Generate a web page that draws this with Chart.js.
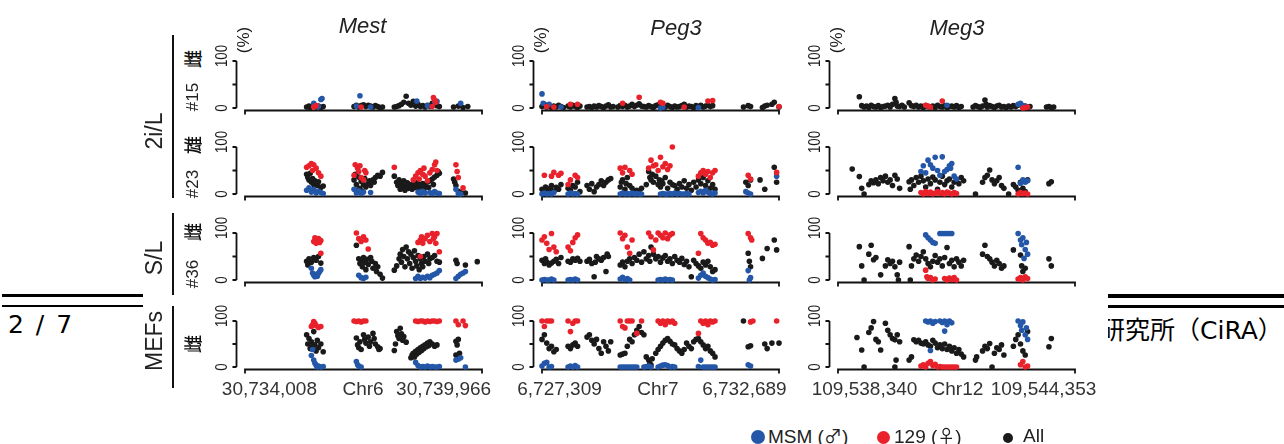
<!DOCTYPE html>
<html>
<head>
<meta charset="utf-8">
<script src="https://cdn.jsdelivr.net/npm/chart.js@4.4.0/dist/chart.umd.min.js"></script>
<style>
  html, body { margin: 0; padding: 0; background: #fff; }
  #page { position: relative; width: 1284px; height: 444px; overflow: hidden; background: #fff; font-family: "Liberation Sans", Arial, sans-serif; color: #111; }
  .rule { position: absolute; background: #000; }
  .pg { position: absolute; font-family: "DejaVu Sans", "Noto Sans CJK JP", sans-serif; font-size: 25px; color: #000; white-space: nowrap; }
  #fig { position: absolute; left: 143px; top: 0; width: 965px; height: 444px; background: #fff; }
  .t { position: absolute; white-space: nowrap; line-height: 1; }
  .rot { transform: translate(-50%, -50%) rotate(-90deg); }
  .vline { position: absolute; width: 2px; background: #111; }
  canvas { position: absolute; }
  .leg { position: absolute; top: 426px; font-size: 19px; white-space: nowrap; line-height: 1; color: #222; }
  .dot { display: inline-block; border-radius: 50%; vertical-align: -1px; }
  .sym { font-family: "Noto Sans CJK JP", "DejaVu Sans", sans-serif; font-size: 18px; }
</style>
</head>
<body>
<div id="page">
  <div class="rule" style="left:2px;top:294px;width:141px;height:3px"></div>
  <div class="rule" style="left:2px;top:305px;width:141px;height:2px"></div>
  <div class="rule" style="left:1108px;top:294px;width:176px;height:4px"></div>
  <div class="rule" style="left:1108px;top:305px;width:176px;height:3px"></div>
  <div class="pg" style="left:8px;top:310px;word-spacing:4px">2 / 7</div>
  <div class="pg" style="left:1100px;top:310px">研究所（CiRA）</div>
  <div id="fig"></div>
</div>
<script>
// colours
const BLUE = '#2457a8';
const RED = '#e8212b';
const BLACK = '#1a1a1a';

// x tick labels for each gene region (positions in % of the plotted window)
const MEST_X_TICKS = [10.3, 49.8, 83.8];
const MEST_X_LABELS = ['30,734,008', 'Chr6', '30,739,966'];
const PEG3_X_TICKS = [7.4, 48.9, 85.4];
const PEG3_X_LABELS = ['6,727,309', 'Chr7', '6,732,689'];
const MEG3_X_TICKS = [11.2, 50.4, 86.7];
const MEG3_X_LABELS = ['109,538,340', 'Chr12', '109,544,353'];
const Y_TICKS = [0, 50, 100];
const Y_TICK_LABELS = ['0', '', '100'];

// methylation (%) as flat [position, value, ...] lists
// ---- Mest ----
const MEST_R1_ALL = [26,2, 27,4, 27.5,1, 28,3, 29,5, 30,2, 31,4, 32,1, 33,3, 46,3, 47,6, 48,2, 49,5, 50,7, 51,3, 52,6, 53,4, 54,2, 55,5, 56,3, 57,1, 58,2, 63,2, 64,3, 65,5, 66,8, 67,12, 68,25, 69,10, 70,6, 71,14, 72,4, 73,8, 74,3, 75,5, 76,2, 77,6, 78,4, 79,10, 80,7, 81,5, 82,3, 88,2, 90,4, 92,1, 94,3];
const MEST_R1_MSM = [29,10, 31,3, 32,18, 32.5,20, 48.5,26, 47,4, 53,2, 72.5,15, 77,5, 80,13, 81,14, 91,10];
const MEST_R1_129 = [30,5, 29,2, 49,2, 79,3, 79.5,22, 80,17, 80.5,12];

const MEST_R2_ALL = [26,42, 26.5,35, 27,30, 27.5,44, 28,25, 28.5,33, 29,20, 29.5,28, 30,22, 30.5,18, 31,26, 32,14, 33,17, 46,30, 46.5,42, 47,20, 47.5,8, 48,36, 48.5,12, 49,27, 49.5,5, 50,20, 50.5,33, 51,15, 52,22, 52.5,28, 53,18, 54,30, 54.5,25, 55,35, 56,40, 57,38, 58,46, 63,38, 64,25, 64.5,18, 65,30, 65.5,10, 66,22, 66.5,14, 67,28, 67.5,8, 68,18, 68.5,24, 69,12, 69.5,20, 70,16, 70.5,10, 71,22, 71.5,14, 72,18, 72.5,25, 73,12, 73.5,20, 74,16, 75,22, 75.5,10, 76,18, 77,26, 77.5,14, 78,28, 79,32, 79.5,20, 80,36, 81,40, 81.5,48, 82,44, 88,32, 88.5,25, 89,18, 90,6, 91,3, 93,2];
const MEST_R2_MSM = [26,8, 27,13, 28,4, 29,10, 30,2, 31,6, 32,3, 33,1, 46,10, 47,2, 48,7, 49,1, 50,4, 53,3, 73,4, 74,1, 75,6, 76,2, 78,3, 79,1, 80,5, 81,2, 82,1, 89,10, 90,1, 91,0];
const MEST_R2_129 = [26,57, 27,60, 28,65, 28.5,50, 29,62, 30,55, 31,45, 32,38, 46,40, 46.5,62, 47.5,55, 48,48, 48.5,60, 49,35, 50,30, 50.5,50, 51,45, 63,57, 71,30, 72,38, 73,45, 73.5,32, 74,50, 75,42, 75.5,55, 76,38, 77,28, 78,45, 79,52, 80,62, 80.5,68, 81,50, 89,62, 89.5,48, 90,35, 92,13];

const MEST_R3_ALL = [26,40, 26.5,32, 27,45, 28,38, 29,48, 30,42, 31,50, 32,36, 47,74, 48,45, 48.5,35, 49,42, 49.5,28, 50,48, 50.5,38, 51,22, 51.5,44, 52,33, 53,48, 53.5,40, 54,25, 55,35, 55.5,18, 56,28, 57,12, 58,4, 63,21, 64,30, 65,45, 65.5,55, 66,38, 66.5,65, 67,50, 67.5,28, 68,70, 68.5,45, 69,60, 69.5,35, 70,55, 70.5,25, 71,48, 71.5,62, 72,40, 72.5,30, 73,52, 73.5,22, 74,45, 74.5,35, 75,28, 75.5,50, 76,40, 77,55, 77.5,35, 78,45, 79,48, 80,52, 81,40, 82,38, 89,42, 89.5,35, 93,32, 98,39];
const MEST_R3_MSM = [28,25, 28.5,15, 29,10, 29.5,7, 30,12, 30.5,8, 31,14, 31.5,18, 32,22, 48,10, 49,5, 50,3, 51,6, 72,3, 73,8, 74,3, 75,6, 76,4, 77,8, 78,5, 79,10, 80,12, 81,15, 82,20, 89,3, 90,8, 91,12, 92,15, 93,18];
const MEST_R3_129 = [29,82, 29.5,90, 30,78, 30.5,85, 31,88, 31.5,80, 32,84, 32,57, 47,100, 48,88, 49,82, 50,92, 51,85, 52,66, 73,80, 74,85, 74.5,92, 75,78, 76,88, 77,95, 78,82, 79,99, 79.5,88, 80,92, 80.5,78, 81,99, 82,60, 74,50];

const MEST_R4_ALL = [26,70, 26.5,50, 27,62, 27.5,40, 28,55, 28.5,45, 29,77, 29.5,48, 30,35, 30.5,58, 31,42, 32,50, 33,33, 47,63, 47.5,48, 48,42, 48.5,55, 49,38, 50,70, 50.5,60, 51,52, 52,65, 52.5,45, 53,55, 54,73, 54.5,62, 55,50, 56,44, 56.5,38, 57,40, 63,36, 63.5,50, 64,77, 64.5,68, 65,62, 65.5,84, 66,72, 66.5,58, 67,66, 68,54, 70,20, 70.5,26, 71,30, 71.5,22, 72,34, 72.5,28, 73,38, 73.5,32, 74,42, 74.5,36, 75,45, 75.5,40, 76,48, 76.5,44, 77,52, 77.5,46, 78,55, 79,50, 80,45, 81,48, 89,56, 89.5,48, 90,60, 89,26, 90.5,30];
const MEST_R4_MSM = [28,25, 28.5,38, 29,15, 29.5,8, 30,4, 30.5,0, 31,2, 32,0, 33,1, 47,12, 47.5,5, 48,2, 49,0, 72,10, 73,3, 74,0, 75,1, 76,0, 77,2, 78,0, 79,1, 80,0, 81,0, 82,1, 89,15, 90,17, 91,20, 93,0];
const MEST_R4_129 = [28,88, 28.5,92, 29,99, 29.5,95, 30,90, 31,86, 32,88, 46,100, 47,99, 48,100, 49,98, 50,100, 51,100, 72,100, 73,99, 74,100, 75,100, 76,98, 77,100, 78,99, 79,100, 80,100, 81,99, 82,100, 89,100, 90,92, 92,100, 93,90];

// ---- Peg3 ----
const PEG3_R1_ALL = [0,3, 1,8, 2,2, 3,5, 4,1, 5,4, 6,2, 7,6, 8,3, 9,1, 11,4, 12,2, 13,6, 14,3, 15,1, 16,4, 19,2, 20,3, 21,1, 22,4, 23,2, 24,5, 25,3, 26,1, 27,4, 28,7, 29,2, 30,3, 32,2, 33,5, 34,3, 35,6, 36,2, 37,4, 38,8, 39,3, 40,6, 41,9, 42,4, 43,3, 44,2, 45,5, 46,3, 47,1, 48,5, 49,7, 50,3, 51,4, 52,2, 53,6, 54,3, 55,1, 56,4, 57,2, 58,3, 59,5, 60,8, 61,2, 62,4, 63,3, 64,1, 65,5, 66,3, 67,6, 68,2, 69,4, 70,6, 71,3, 72,5, 85,2, 87,5, 88,3, 93,1, 94,4, 95,6, 97,8, 98,12, 100,2];
const PEG3_R1_MSM = [0,30, 0.5,10, 3,8, 8,2, 50,0, 51,2, 66,1];
const PEG3_R1_129 = [2,3, 12,8, 15,8, 34,10, 41,23, 50,12, 51,10, 70,15, 72,16, 100,3, 5,2, 60,2];

const PEG3_R2_ALL = [0,10, 1,5, 1.5,15, 2,8, 3,3, 3.5,12, 4,18, 5,6, 6,14, 7,10, 8,20, 11,12, 12,8, 13,18, 14,15, 15,25, 16,5, 19,18, 20,10, 21,22, 22,5, 23,15, 24,20, 25,28, 26,18, 27,25, 28,30, 29,33, 33,15, 33.5,25, 34,30, 35,10, 35.5,22, 36,35, 37,18, 38,12, 39,5, 40,8, 41,3, 42,12, 44,20, 45,48, 45.5,35, 46,30, 46.5,42, 47,25, 48,38, 49,20, 49.5,30, 50,15, 50.5,28, 51,22, 52,35, 53,12, 54,25, 55,20, 56,18, 57,10, 58,22, 59,15, 60,28, 61,12, 62,20, 63,8, 64,25, 65,15, 66,30, 67,22, 68,35, 69,18, 70,28, 71,12, 72,20, 73,10, 86,25, 87,18, 88,30, 92,30, 94,10, 98,57, 99,25];
const PEG3_R2_MSM = [0,0, 1,2, 2,0, 3,1, 4,0, 5,3, 11,0, 12,2, 13,0, 14,1, 15,0, 33,0, 34,2, 35,0, 36,1, 37,0, 38,2, 39,0, 40,1, 41,0, 42,0, 50,0, 51,1, 52,0, 53,0, 54,1, 55,0, 56,2, 57,0, 58,1, 59,0, 60,0, 61,1, 62,0, 66,3, 67,6, 68,2, 69,8, 70,4, 71,1, 72,0, 73,2, 86,5, 87,2, 88,0, 99,38];
const PEG3_R2_129 = [1,40, 4,38, 5,46, 7,40, 8,44, 11,20, 12,30, 14,40, 15,35, 33,55, 34,45, 35,57, 37,50, 38,42, 45,55, 46,72, 47,60, 48,62, 49,50, 50,78, 51,58, 52,65, 53,52, 54,60, 55,100, 66,38, 67,45, 68,50, 69,42, 70,48, 71,35, 72,45, 73,50, 87,40, 88,32, 99,46];

const PEG3_R3_ALL = [0,42, 1,35, 1.5,45, 2,38, 3,32, 4,36, 5,40, 6,44, 7,35, 8,48, 11,40, 12,38, 13,45, 14,42, 15,46, 16,40, 19,40, 20,44, 21,35, 22,7, 22.5,38, 23,50, 24,45, 25,42, 26,48, 27,18, 27.5,55, 28,50, 33,32, 34,38, 35,28, 36,40, 37,45, 38,35, 39,48, 40,42, 41,55, 42,38, 43,60, 44,45, 45,52, 45.5,40, 46,70, 47,55, 48,45, 49,50, 50,38, 51,47, 52,52, 53,40, 54,45, 55,35, 56,50, 57,42, 58,38, 59,46, 60,33, 61,40, 62,28, 63,7, 64,42, 65,35, 66,30, 67,25, 68,38, 69,32, 70,40, 71,28, 72,18, 73,22, 87,57, 87.5,40, 88,28, 93,46, 95,67, 98,85, 99,64];
const PEG3_R3_MSM = [0,0, 1,1, 2,0, 3,0, 4,2, 5,0, 11,0, 12,1, 13,0, 14,2, 15,0, 33,2, 34,6, 35,1, 36,3, 37,0, 49,0, 50,1, 51,0, 52,2, 53,0, 54,1, 55,0, 66,4, 67,10, 68,15, 69,8, 70,5, 71,2, 72,0, 73,1, 87,20, 88,5, 87.5,0];
const PEG3_R3_129 = [0,85, 1,92, 2,78, 3,65, 4,99, 5,70, 6,60, 11,70, 12,62, 13,80, 14,90, 15,96, 33,100, 34,88, 35,95, 36,70, 37,57, 38,85, 45,100, 46,92, 47,64, 48,85, 49,100, 50,95, 51,90, 52,100, 53,88, 54,96, 55,99, 67,99, 68,90, 69,85, 70,78, 71,80, 72,74, 73,76, 66,57, 87,99, 88,90, 88.5,85];

const PEG3_R4_ALL = [0,60, 1,70, 2,52, 3,40, 4,45, 5,33, 6,38, 11,45, 12,40, 13,48, 14,52, 15,45, 19,65, 20,70, 21,58, 22,50, 23,60, 24,40, 25,30, 26,55, 27,45, 28,35, 29,55, 33,26, 34,28, 35,30, 36,45, 37,60, 38,55, 39,70, 40,80, 41,88, 42,75, 43,70, 44,22, 45,15, 45.5,8, 46,4, 46.5,18, 48,30, 49,38, 50,45, 51,52, 52,58, 53,62, 54,56, 55,50, 56,48, 57,40, 58,35, 59,30, 60,38, 61,52, 62,45, 63,40, 64,55, 65,60, 66,62, 67,55, 68,48, 69,40, 70,45, 71,35, 72,30, 73,22, 85,100, 87,44, 88,46, 94,50, 95,40, 97,52, 100,52];
const PEG3_R4_MSM = [0,2, 1,8, 2,10, 3,0, 4,1, 11,0, 12,2, 13,0, 14,3, 15,0, 33,0, 34,0, 35,0, 36,0, 37,0, 38,0, 39,0, 40,0, 43,0, 44,1, 45,2, 46,0, 49,0, 50,2, 51,4, 52,5, 53,3, 54,0, 55,1, 56,0, 66,1, 67,15, 68,0, 69,0, 70,0, 71,0, 72,0, 73,0, 87,5, 88,2];
const PEG3_R4_129 = [0,100, 1,88, 2,100, 3,100, 4,100, 11,100, 12,77, 13,95, 14,100, 15,100, 33,100, 34,88, 35,85, 36,100, 37,100, 38,100, 40,73, 42,100, 49,100, 50,95, 51,100, 52,92, 53,100, 54,98, 55,100, 56,95, 67,100, 68,95, 69,100, 70,92, 71,100, 72,98, 73,100, 66,73, 88,98, 89,100, 99,100];

// ---- Meg3 ----
const MEG3_R1_ALL = [9,24, 10,5, 11,2, 12,4, 13,1, 14,6, 15,3, 16,2, 17,5, 18,1, 19,3, 20,4, 21,6, 22,2, 23,8, 24,20, 24.5,12, 25,4, 26,3, 27,6, 28,2, 30,11, 31,5, 32,3, 33,6, 34,2, 35,4, 36,1, 37,5, 38,3, 39,2, 40,4, 41,1, 42,6, 43,3, 44,2, 45,5, 46,1, 47,3, 48,4, 49,2, 50,5, 51,1, 52,3, 57,2, 58,5, 59,3, 60,1, 61,4, 62,17, 62.5,8, 63,2, 64,5, 65,3, 66,1, 67,4, 68,6, 69,2, 70,3, 71,1, 72,4, 73,2, 74,5, 75,3, 76,6, 77,8, 78,2, 79,4, 80,1, 81,3, 88,2, 89,3, 90,1, 91,2];
const MEG3_R1_MSM = [46,6, 76,8, 77,10, 78,5, 79,3];
const MEG3_R1_129 = [37,6, 38,4, 39,2, 44,15, 78,0, 79,1, 80,2];

const MEG3_R2_ALL = [6,53, 9,37, 10,12, 11,0, 13,20, 14,28, 15,24, 16,30, 17,22, 18,35, 19,28, 20,38, 21,25, 22,30, 23,18, 24,40, 25,32, 26,12, 30,26, 30.5,10, 31,30, 32,18, 33,35, 34,25, 35,38, 36,28, 37,15, 38,32, 39,22, 40,36, 41,30, 42,10, 43,25, 44,38, 45,20, 46,28, 47,32, 48,15, 49,25, 50,30, 51,22, 52,35, 53,28, 58,0, 61,25, 62,35, 63,40, 64,51, 65,30, 66,22, 67,28, 68,35, 69,18, 70,12, 72,0, 74,20, 75,15, 76,8, 77,25, 78,12, 79,5, 80,30, 89,22, 90,26];
const MEG3_R2_MSM = [35,48, 36,60, 38,72, 39,62, 40,55, 41,78, 42,50, 43,40, 44,79, 45,48, 46,52, 47,60, 47.5,55, 48,65, 49,38, 50,32, 37,45, 76,57, 77,23, 78,30, 79,25, 80,28];
const MEG3_R2_129 = [35,3, 36,0, 37,5, 38,1, 39,4, 40,0, 41,2, 42,5, 43,1, 44,3, 45,0, 46,4, 47,2, 48,0, 49,3, 50,1, 76,0, 77,3, 78,1, 79,2, 80,0];

const MEG3_R3_ALL = [9,71, 10,30, 11,0, 13,55, 14,74, 15,43, 16,48, 18,11, 20,30, 21,43, 22,35, 23,40, 24,28, 25,11, 25.5,0, 26,38, 30,71, 30.5,0, 31,30, 32,45, 33,53, 34,40, 35,50, 36,60, 37,45, 38,35, 39,28, 40,40, 41,52, 42,38, 43,45, 44,30, 45,48, 46,69, 47,35, 48,42, 49,28, 50,45, 51,38, 52,30, 53,42, 61,55, 62,74, 63,50, 64,45, 65,38, 66,30, 67,42, 68,35, 69,25, 70,30, 74,64, 77,53, 77.5,30, 78,18, 79,25, 89,45, 90,30];
const MEG3_R3_MSM = [37,96, 38,90, 39,85, 40,80, 41,78, 43,99, 44,99, 45,99, 46,99, 47,99, 48,99, 76,99, 77,85, 77.5,75, 78,90, 79,65, 79.5,80, 80,55, 78.5,46];
const MEG3_R3_129 = [37,21, 37.5,7, 38,3, 39,5, 40,0, 41,2, 45,3, 46,0, 47,4, 48,1, 49,5, 50,0, 76,2, 77,5, 78,0, 79,7, 80,3];

const MEG3_R4_ALL = [8,64, 10,37, 11,0, 13,75, 14,85, 15,99, 16,60, 17,55, 18,37, 20,95, 21,80, 22,70, 23,62, 24,59, 24.5,15, 25,70, 24,0, 26,55, 30,15, 31,22, 32,59, 33,55, 34,58, 35,52, 36,50, 37,55, 38,48, 39,45, 40,58, 41,52, 42,42, 43,48, 44,40, 45,50, 46,38, 47,45, 48,35, 49,42, 50,30, 51,38, 52,28, 53,22, 58,15, 58.5,22, 61,35, 62,45, 63,40, 64,51, 65,0, 66,30, 67,42, 68,38, 69,48, 70,26, 74,45, 75,60, 76,70, 77,50, 78,35, 79,26, 80,77, 89,44, 90,62];
const MEG3_R4_MSM = [37,100, 38,98, 39,100, 40,95, 41,99, 43,100, 44,97, 45,100, 46,92, 47,100, 48,96, 45,78, 39,36, 76,100, 77,90, 77.5,80, 78,98, 79,70, 80,60, 79.5,85];
const MEG3_R4_129 = [35,2, 36,5, 37,0, 38,8, 39,12, 40,3, 41,6, 42,0, 43,1, 44,0, 45,0, 46,0, 47,0, 48,0, 49,0, 50,0, 77,5, 78,12, 79,0, 80,2];

const PANELS = [
  [[MEST_R1_ALL, MEST_R1_MSM, MEST_R1_129], [PEG3_R1_ALL, PEG3_R1_MSM, PEG3_R1_129], [MEG3_R1_ALL, MEG3_R1_MSM, MEG3_R1_129]],
  [[MEST_R2_ALL, MEST_R2_MSM, MEST_R2_129], [PEG3_R2_ALL, PEG3_R2_MSM, PEG3_R2_129], [MEG3_R2_ALL, MEG3_R2_MSM, MEG3_R2_129]],
  [[MEST_R3_ALL, MEST_R3_MSM, MEST_R3_129], [PEG3_R3_ALL, PEG3_R3_MSM, PEG3_R3_129], [MEG3_R3_ALL, MEG3_R3_MSM, MEG3_R3_129]],
  [[MEST_R4_ALL, MEST_R4_MSM, MEST_R4_129], [PEG3_R4_ALL, PEG3_R4_MSM, PEG3_R4_129], [MEG3_R4_ALL, MEG3_R4_MSM, MEG3_R4_129]],
];
const X_TICKS = [MEST_X_TICKS, PEG3_X_TICKS, MEG3_X_TICKS];
const X_LABELS = [MEST_X_LABELS, PEG3_X_LABELS, MEG3_X_LABELS];

// layout (page pixels)
const COLS = [{ left: 245, right: 482 }, { left: 542, right: 779 }, { left: 838, right: 1075 }];
const ROWS = [{ top: 61, bottom: 108 }, { top: 147, bottom: 194 }, { top: 233, bottom: 280 }, { top: 321, bottom: 367 }];
const FIG_LEFT = 143;

function toPoints(flat) {
  const out = [];
  for (let i = 0; i < flat.length; i += 2) out.push({ x: flat[i], y: flat[i + 1] });
  return out;
}

// R-style detached axes, drawn from the chart's own scales
const rAxes = {
  id: 'rAxes',
  beforeDatasetsDraw(chart, args, opts) {
    const { ctx, chartArea: ca, scales: { x, y } } = chart;
    ctx.save();
    ctx.strokeStyle = '#111';
    ctx.fillStyle = '#1a1a1a';
    ctx.lineWidth = 1.8;
    const ax = ca.left - 8.5;
    ctx.beginPath();
    ctx.moveTo(ax, y.getPixelForValue(100));
    ctx.lineTo(ax, y.getPixelForValue(0));
    Y_TICKS.forEach(v => {
      const py = y.getPixelForValue(v);
      ctx.moveTo(ax, py);
      ctx.lineTo(ax - 4, py);
    });
    const by = y.getPixelForValue(0) + 2.5;
    const x0 = x.getPixelForValue(0), x1 = x.getPixelForValue(100);
    ctx.moveTo(x0, by + 4); ctx.lineTo(x0, by); ctx.lineTo(x1, by); ctx.lineTo(x1, by + 4);
    ctx.stroke();

    ctx.font = '17px "Liberation Sans", Arial, sans-serif';
    ctx.textAlign = 'center';
    ctx.textBaseline = 'middle';
    Y_TICKS.forEach((v, i) => {
      if (!Y_TICK_LABELS[i]) return;
      ctx.save();
      ctx.translate(ca.left - 23, y.getPixelForValue(v) - (v === 100 ? 5 : 0));
      ctx.rotate(-Math.PI / 2);
      ctx.scale(0.78, 1);
      ctx.fillText(Y_TICK_LABELS[i], 0, 0);
      ctx.restore();
    });
    if (opts.pct) {
      ctx.save();
      ctx.font = '17px "Liberation Sans", Arial, sans-serif';
      ctx.translate(ca.left - 1, y.getPixelForValue(100) - 21);
      ctx.rotate(-Math.PI / 2);
      ctx.fillText('(%)', 0, 0);
      ctx.restore();
    }
    if (opts.ticks) {
      ctx.font = '19px "Liberation Sans", Arial, sans-serif';
      ctx.textBaseline = 'alphabetic';
      ctx.fillStyle = '#333';
      opts.ticks.forEach((v, i) => ctx.fillText(opts.labels[i], x.getPixelForValue(v), y.getPixelForValue(0) + 28));
    }
    ctx.restore();
  }
};

const fig = document.getElementById('fig');

function makePanel(r, c) {
  const col = COLS[c], row = ROWS[r];
  const pad = { left: 40, right: 40, top: 40, bottom: r === 3 ? 36 : 14 };
  const canvas = document.createElement('canvas');
  canvas.width = col.right - col.left + pad.left + pad.right;
  canvas.height = row.bottom - row.top + pad.top + pad.bottom;
  canvas.style.left = (col.left - pad.left - FIG_LEFT) + 'px';
  canvas.style.top = (row.top - pad.top) + 'px';
  fig.appendChild(canvas);
  const [all, msm, f129] = PANELS[r][c];
  const ds = (label, data, color) => ({
    label, data: toPoints(data), backgroundColor: color, borderWidth: 0,
    pointRadius: 2.8, pointHoverRadius: 2.8, clip: false
  });
  new Chart(canvas, {
    type: 'scatter',
    data: {
      datasets: [
        ds('129 (♀)', f129, RED),
        ds('MSM (♂)', msm, BLUE),
        ds('All', all, BLACK),
      ]
    },
    options: {
      responsive: false,
      animation: false,
      devicePixelRatio: 1,
      layout: { padding: pad },
      scales: {
        x: { type: 'linear', min: 0, max: 100, display: false },
        y: { type: 'linear', min: 0, max: 100, display: false },
      },
      plugins: {
        legend: { display: false },
        tooltip: { enabled: false },
        rAxes: { pct: r === 0, ticks: r === 3 ? X_TICKS[c] : null, labels: X_LABELS[c] },
      },
    },
    plugins: [rAxes],
  });
}

for (let r = 0; r < 4; r++) for (let c = 0; c < 3; c++) makePanel(r, c);

// text labels
function label(text, x, y, css, rotate) {
  const d = document.createElement('div');
  d.className = 't' + (rotate ? ' rot' : '');
  d.textContent = text;
  d.style.left = (x - FIG_LEFT) + 'px';
  d.style.top = y + 'px';
  d.style.cssText += css;
  if (!rotate) d.style.transform = 'translate(-50%, -50%)';
  fig.appendChild(d);
}
const TITLE_CSS = 'font-size:22px;font-style:italic;color:#222;';
label('Mest', 362.5, 26, TITLE_CSS);
label('Peg3', 676, 28, TITLE_CSS);
label('Meg3', 957, 28, TITLE_CSS);

const GROUP_CSS = 'font-size:23px;color:#222;';
label('2i/L', 154, 131, GROUP_CSS, true);
label('S/L', 154, 258, GROUP_CSS, true);
label('MEFs', 154, 341, GROUP_CSS, true);

const ROW_CSS = 'font-size:17px;color:#222;';
const CJK_CSS = 'font-size:18px;color:#111;font-weight:500;font-family:"Noto Sans CJK JP",sans-serif;';
label('雌', 192, 59, CJK_CSS, true);
label('#15', 192, 97, ROW_CSS, true);
label('雄', 192, 145, CJK_CSS, true);
label('#23', 192, 184, ROW_CSS, true);
label('雌', 192, 232, CJK_CSS, true);
label('#36', 192, 274, ROW_CSS, true);
label('雌', 192, 344, CJK_CSS, true);

[[35, 198], [213, 295], [306, 388]].forEach(([a, b]) => {
  const v = document.createElement('div');
  v.className = 'vline';
  v.style.left = (172 - FIG_LEFT) + 'px';
  v.style.top = a + 'px';
  v.style.height = (b - a) + 'px';
  fig.appendChild(v);
});

// legend
function legend(x, color, size, gap, html) {
  const d = document.createElement('div');
  d.className = 'leg';
  d.style.left = (x - FIG_LEFT) + 'px';
  d.innerHTML = `<span class="dot" style="width:${size}px;height:${size}px;background:${color};margin-right:${gap}px"></span>${html}`;
  fig.appendChild(d);
}
legend(751, BLUE, 14, 3, 'MSM (<span class="sym">♂</span>)');
legend(877, RED, 13, 4, '129 (<span class="sym">♀</span>)');
legend(1003, BLACK, 10, 10, 'All');
</script>
</body>
</html>
